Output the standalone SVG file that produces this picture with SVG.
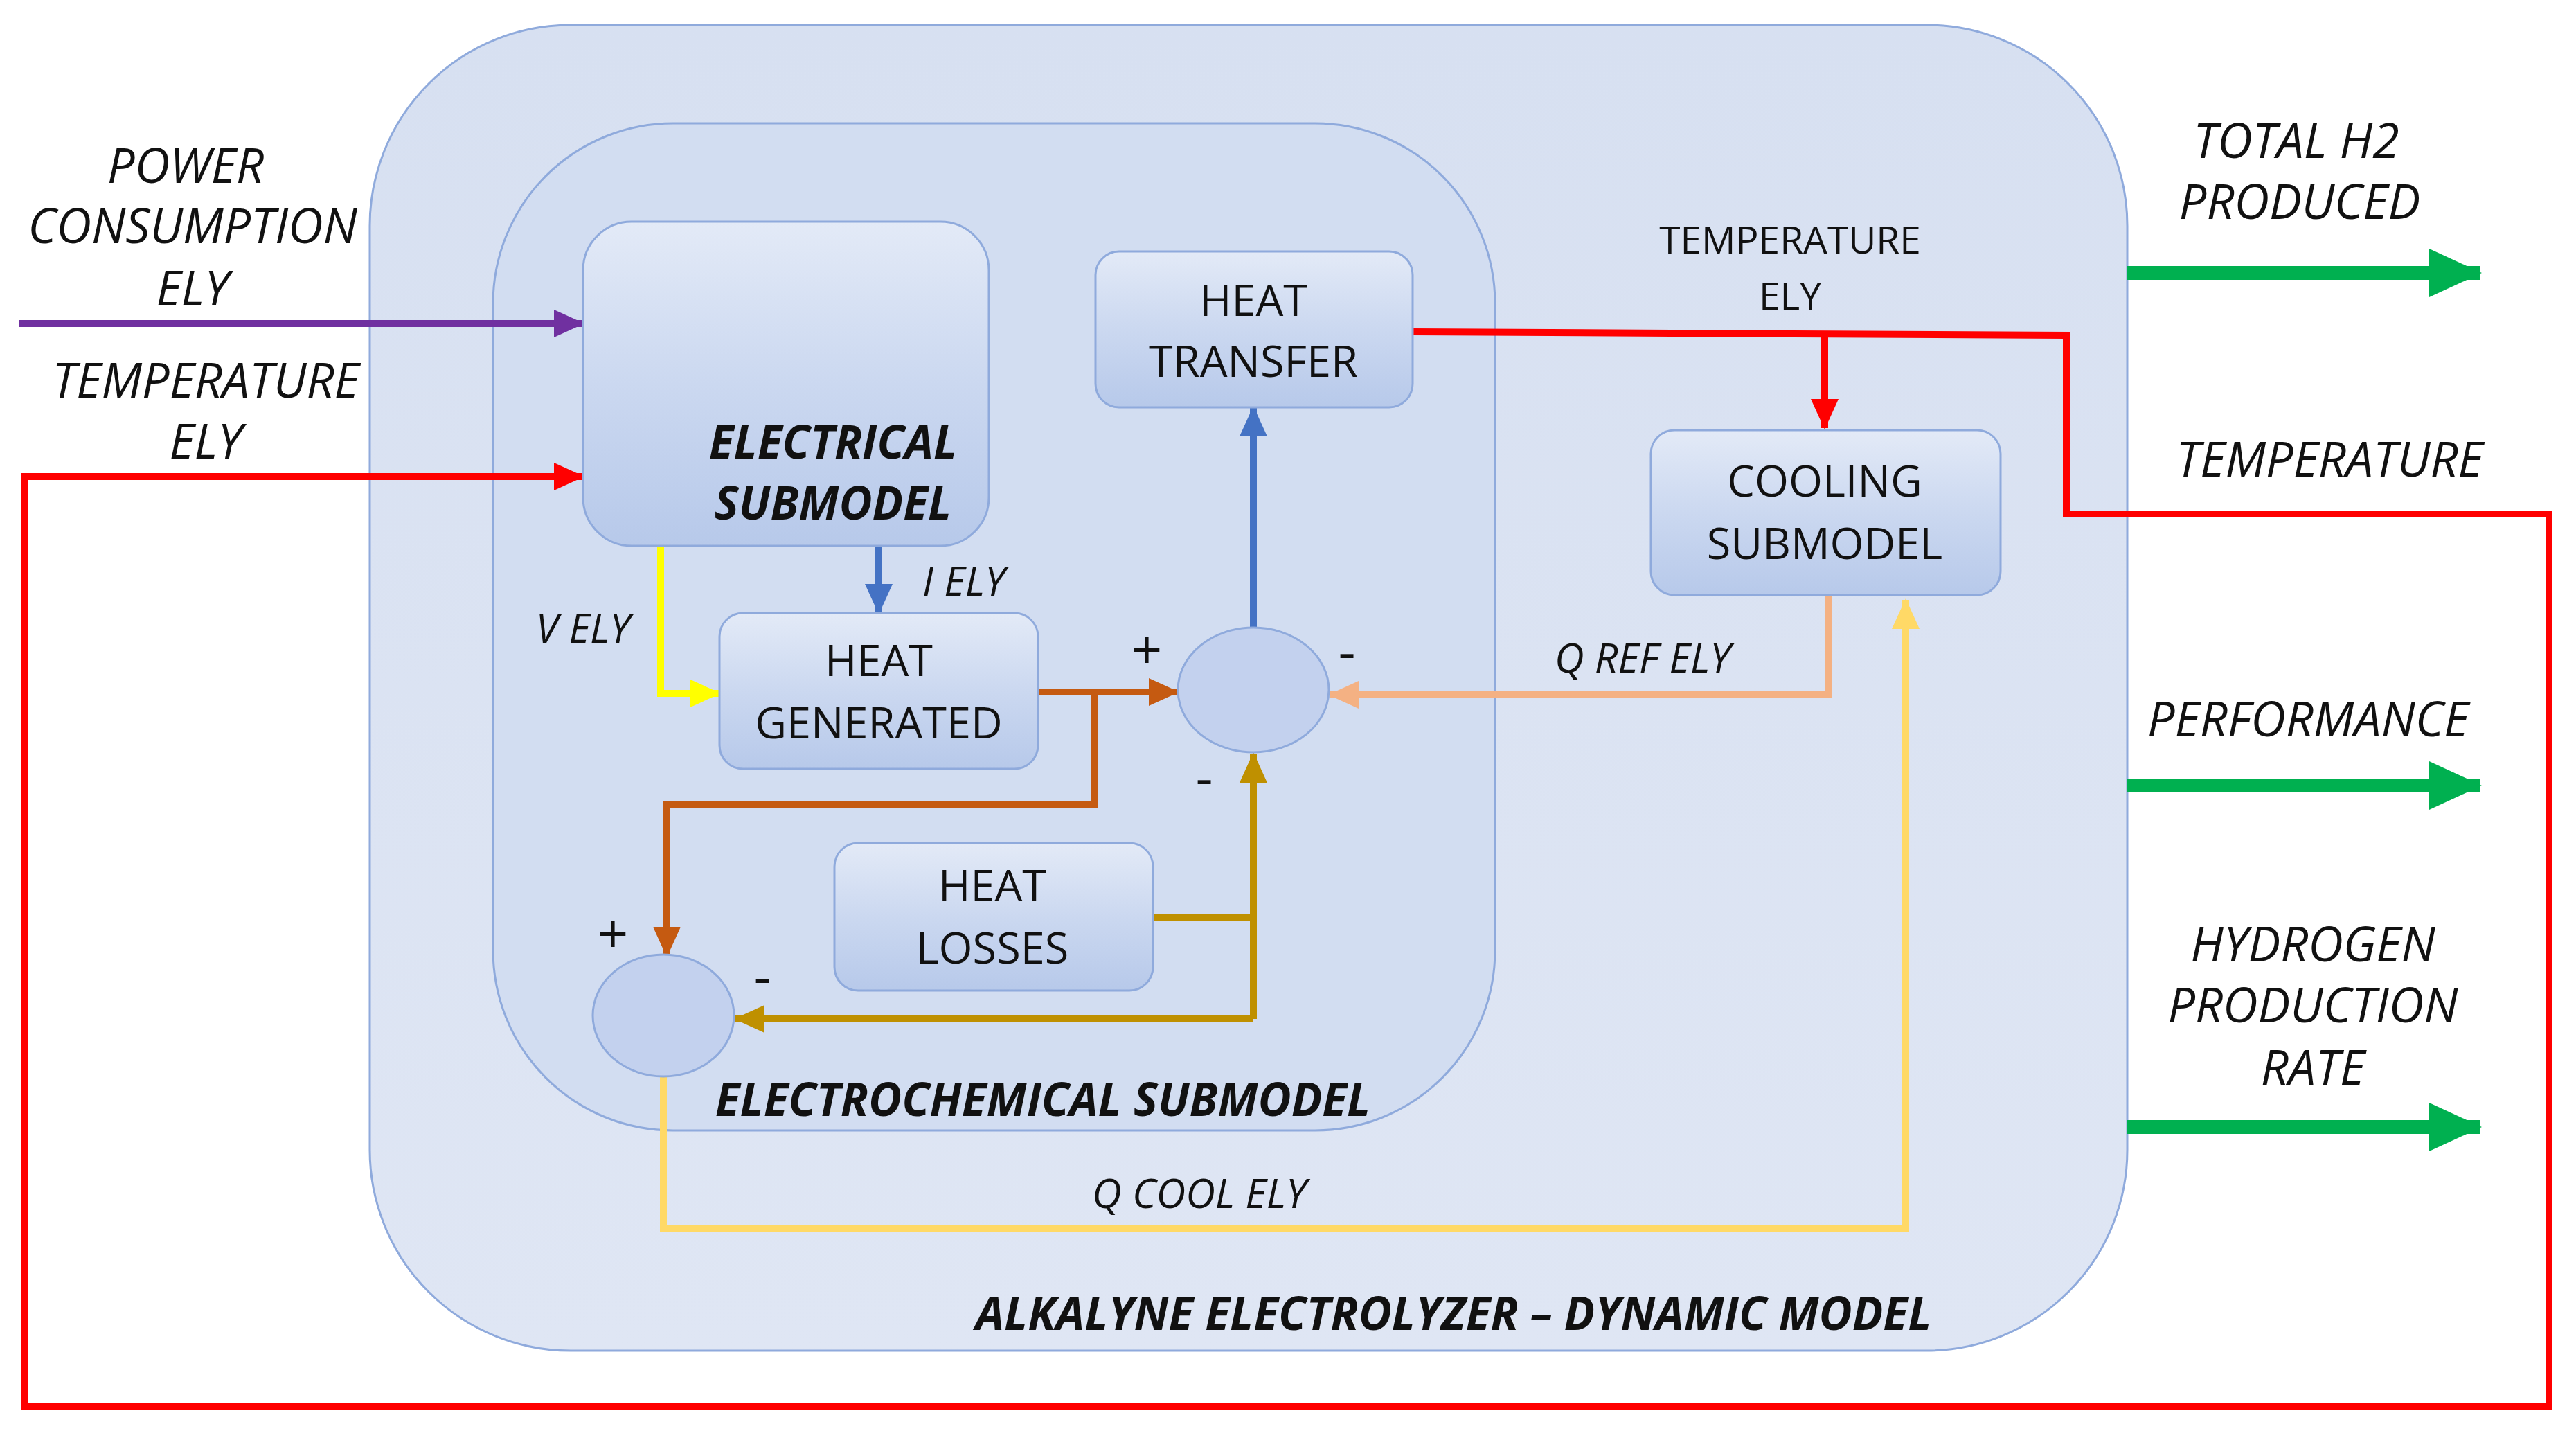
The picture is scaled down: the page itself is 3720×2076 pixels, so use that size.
<svg xmlns="http://www.w3.org/2000/svg" width="3720" height="2076" viewBox="0 0 3720 2076">
<style>
.t{font-family:"Open Sans","Liberation Sans",sans-serif;fill:#111;text-anchor:middle}
.n{font-size:63px}
.i{font-size:70px;font-style:italic}
.s{font-size:59px;font-style:italic}
.b{font-size:66px;font-style:italic;font-weight:bold}
.p{font-size:78px}
.c{fill:none;stroke-width:10;stroke-linejoin:miter}
.box{fill:url(#gb);stroke:#8faadc;stroke-width:3}
.sum{fill:#c3d1ee;stroke:#8faadc;stroke-width:3}
</style>
<defs>
<linearGradient id="gb" x1="0" y1="0" x2="0" y2="1"><stop offset="0" stop-color="#e3eaf7"/><stop offset="0.5" stop-color="#cbd8f0"/><stop offset="1" stop-color="#b7c9ea"/></linearGradient>
<linearGradient id="go" x1="0" y1="0" x2="0" y2="1"><stop offset="0" stop-color="#d7e0f1"/><stop offset="1" stop-color="#dfe6f4"/></linearGradient>
<marker id="mPu" markerUnits="userSpaceOnUse" markerWidth="44" markerHeight="40" refX="42" refY="20" orient="auto"><path d="M0,0L44,20L0,40z" fill="#7030a0"/></marker>
<marker id="mR" markerUnits="userSpaceOnUse" markerWidth="44" markerHeight="40" refX="42" refY="20" orient="auto"><path d="M0,0L44,20L0,40z" fill="#ff0000"/></marker>
<marker id="mY" markerUnits="userSpaceOnUse" markerWidth="44" markerHeight="40" refX="42" refY="20" orient="auto"><path d="M0,0L44,20L0,40z" fill="#ffff00"/></marker>
<marker id="mB" markerUnits="userSpaceOnUse" markerWidth="44" markerHeight="40" refX="42" refY="20" orient="auto"><path d="M0,0L44,20L0,40z" fill="#4472c4"/></marker>
<marker id="mO" markerUnits="userSpaceOnUse" markerWidth="44" markerHeight="40" refX="42" refY="20" orient="auto"><path d="M0,0L44,20L0,40z" fill="#c55a11"/></marker>
<marker id="mG" markerUnits="userSpaceOnUse" markerWidth="44" markerHeight="40" refX="42" refY="20" orient="auto"><path d="M0,0L44,20L0,40z" fill="#bf9000"/></marker>
<marker id="mP" markerUnits="userSpaceOnUse" markerWidth="44" markerHeight="40" refX="42" refY="20" orient="auto"><path d="M0,0L44,20L0,40z" fill="#f4b183"/></marker>
<marker id="mL" markerUnits="userSpaceOnUse" markerWidth="44" markerHeight="40" refX="42" refY="20" orient="auto"><path d="M0,0L44,20L0,40z" fill="#ffd966"/></marker>
<marker id="mGr" markerUnits="userSpaceOnUse" markerWidth="76" markerHeight="70" refX="74" refY="35" orient="auto"><path d="M0,0L76,35L0,70z" fill="#00b050"/></marker>
</defs>
<rect width="3720" height="2076" fill="#fff"/>
<g id="outer"><rect x="534" y="36" width="2538" height="1914" rx="290" fill="url(#go)" stroke="#8faadc" stroke-width="3"/>
<text class="t b" x="2099" y="1920">ALKALYNE ELECTROLYZER – DYNAMIC MODEL</text></g>
<g id="electrochemical"><rect x="712" y="178" width="1447" height="1454" rx="260" fill="#d2ddf1" stroke="#8faadc" stroke-width="3"/>
<text class="t b" x="1506" y="1611">ELECTROCHEMICAL SUBMODEL</text></g>
<g id="connectors">
<path class="c" stroke="#7030a0" d="M28,467H842" marker-end="url(#mPu)"/>
<path class="c" stroke="#ff0000" d="M2040,479L2984,484V742H3681V2030H36V688H842" marker-end="url(#mR)"/>
<path class="c" stroke="#ff0000" d="M2635,484V618" marker-end="url(#mR)"/>
<path class="c" stroke="#ffff00" d="M954,788V1001H1039" marker-end="url(#mY)"/>
<path class="c" stroke="#4472c4" d="M1269,788V885" marker-end="url(#mB)"/>
<path class="c" stroke="#4472c4" d="M1810,906V588" marker-end="url(#mB)"/>
<path class="c" stroke="#c55a11" d="M1499,999H1701" marker-end="url(#mO)"/>
<path class="c" stroke="#c55a11" d="M1580,999V1162H963V1380" marker-end="url(#mO)"/>
<path class="c" stroke="#bf9000" d="M1665,1324H1810"/>
<path class="c" stroke="#bf9000" d="M1810,1471V1088" marker-end="url(#mG)"/>
<path class="c" stroke="#bf9000" d="M1810,1471H1062" marker-end="url(#mG)"/>
<path class="c" stroke="#f4b183" d="M2640,859V1003H1920" marker-end="url(#mP)"/>
<path class="c" stroke="#ffd966" d="M958,1554V1774H2752V866" marker-end="url(#mL)"/>
<path fill="none" stroke="#00b050" stroke-width="20" d="M3072,394H3582" marker-end="url(#mGr)"/>
<path fill="none" stroke="#00b050" stroke-width="20" d="M3072,1134H3582" marker-end="url(#mGr)"/>
<path fill="none" stroke="#00b050" stroke-width="20" d="M3072,1627H3582" marker-end="url(#mGr)"/>
</g>
<g id="electrical"><rect class="box" x="842" y="320" width="586" height="468" rx="70"/>
<text class="t b" x="1203" y="662">ELECTRICAL</text><text class="t b" x="1203" y="750">SUBMODEL</text></g>
<g id="heat-transfer"><rect class="box" x="1582" y="363" width="458" height="225" rx="34"/>
<text class="t n" x="1810" y="456">HEAT</text><text class="t n" x="1810" y="544">TRANSFER</text></g>
<g id="cooling"><rect class="box" x="2384" y="621" width="505" height="238" rx="34"/>
<text class="t n" x="2635" y="717">COOLING</text><text class="t n" x="2635" y="807">SUBMODEL</text></g>
<g id="heat-generated"><rect class="box" x="1039" y="885" width="460" height="225" rx="34"/>
<text class="t n" x="1269" y="976">HEAT</text><text class="t n" x="1269" y="1066">GENERATED</text></g>
<g id="heat-losses"><rect class="box" x="1205" y="1217" width="460" height="213" rx="34"/>
<text class="t n" x="1433" y="1301">HEAT</text><text class="t n" x="1433" y="1391">LOSSES</text></g>
<g id="sum1"><ellipse class="sum" cx="1810" cy="996" rx="109" ry="90"/></g>
<g id="sum2"><ellipse class="sum" cx="958" cy="1466" rx="102" ry="88"/></g>
<g id="labels">
<text class="t i" x="268" y="264">POWER</text><text class="t i" x="278" y="351">CONSUMPTION</text><text class="t i" x="278" y="441">ELY</text>
<text class="t i" x="297" y="574">TEMPERATURE</text><text class="t i" x="297" y="662">ELY</text>
<text class="t s" x="842" y="928">V ELY</text><text class="t s" x="1392" y="860">I ELY</text>
<text class="t p" x="1656" y="966">+</text><text class="t p" x="1945" y="968">-</text>
<text class="t p" x="1739" y="1150">-</text><text class="t p" x="885" y="1376">+</text>
<text class="t p" x="1101" y="1437">-</text>
<text class="t s" x="2372" y="971">Q REF ELY</text>
<text class="t" style="font-size:55px" x="2585" y="366">TEMPERATURE</text><text class="t" style="font-size:55px" x="2585" y="447">ELY</text>
<text class="t s" x="1732" y="1744">Q COOL ELY</text>
<text class="t i" x="3316" y="228">TOTAL H2</text><text class="t i" x="3321" y="316">PRODUCED</text>
<text class="t i" x="3364" y="688">TEMPERATURE</text>
<text class="t i" x="3333" y="1063">PERFORMANCE</text>
<text class="t i" x="3340" y="1388">HYDROGEN</text><text class="t i" x="3340" y="1476">PRODUCTION</text><text class="t i" x="3340" y="1566">RATE</text>
</g>
</svg>
